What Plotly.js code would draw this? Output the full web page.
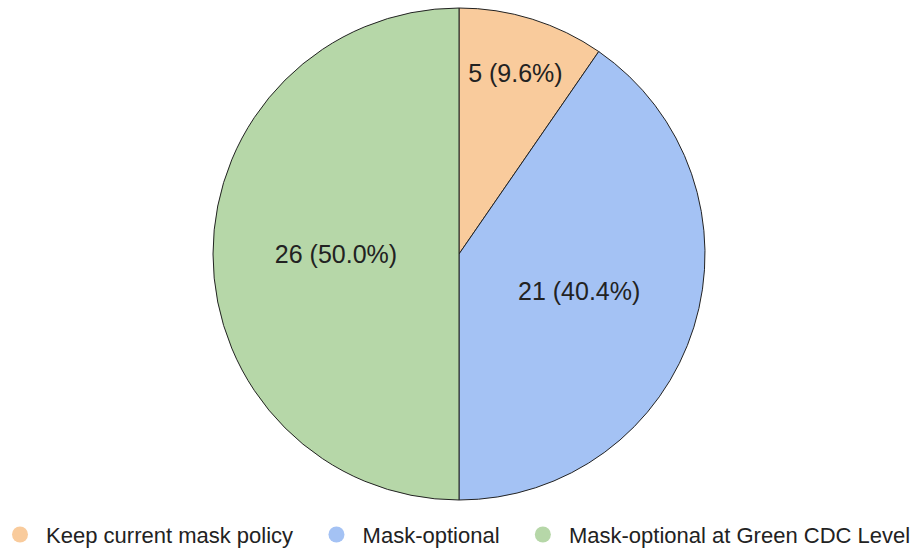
<!DOCTYPE html>
<html><head><meta charset="utf-8">
<script src="https://cdn.plot.ly/plotly-3.0.1.min.js"></script>
<style>html,body{margin:0;padding:0;background:#fff}#chart{width:912px;height:548px}</style>
</head><body><div id="chart"></div>
<script>
const labels = ["Keep current mask policy", "Mask-optional", "Mask-optional at Green CDC Level"];
const values = [5, 21, 26];
const colors = ["#f9cb9c", "#a4c2f4", "#b6d7a8"];

const pie = {
  type: 'pie', labels: labels, values: values, sort: false, direction: 'clockwise', rotation: 0,
  marker: {colors: colors, line: {color: '#222', width: 1}},
  texttemplate: '%{value} (%{percent:.1%})', textposition: 'inside', insidetextorientation: 'horizontal',
  textfont: {family: 'Arial, Liberation Sans', size: 25, color: '#222'},
  hoverinfo: 'label+value+percent', showlegend: false,
  domain: {x: [(459-246)/912, (459+246)/912], y: [48/548, 540/548]}
};
const nb = '\u00a0';
const legendTraces = labels.map((l, i) => ({
  type: 'scatter', mode: 'markers', x: [null], y: [null],
  name: nb + l + (i < labels.length - 1 ? nb + nb + nb : ''),
  marker: {symbol: 'circle', size: 20, color: colors[i]}, showlegend: true, hoverinfo: 'skip'
}));
const layout = {
  width: 912, height: 548, margin: {l: 0, r: 0, t: 0, b: 0, autoexpand: false},
  paper_bgcolor: '#fff', plot_bgcolor: '#fff',
  xaxis: {visible: false}, yaxis: {visible: false},
  showlegend: true,
  legend: {orientation: 'h', x: 0, xanchor: 'left', y: -0.014, yanchor: 'bottom', itemwidth: 30,
    font: {family: 'Arial, Liberation Sans', size: 22, color: '#222'}, tracegroupgap: 0}
};
Plotly.newPlot('chart', [pie, ...legendTraces], layout, {displayModeBar: false});
</script></body></html>
